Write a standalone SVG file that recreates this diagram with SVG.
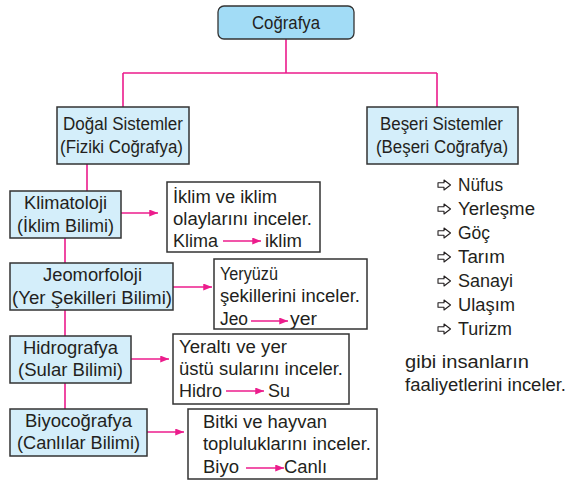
<svg xmlns="http://www.w3.org/2000/svg" width="569" height="482" viewBox="0 0 569 482">
<style>
text{font-family:"Liberation Sans",Arial,sans-serif;font-size:17.5px;fill:#231f20}
.top{fill:#a2dcf6;stroke:#333;stroke-width:1.3}
.box{fill:#d4eefa;stroke:#333;stroke-width:1.5}
.desc{fill:#fff;stroke:#333;stroke-width:1.5}
.pk{stroke:#ec1c8c;stroke-width:1.6;fill:none}
.ic{fill:#fff;stroke:#231f20;stroke-width:1.1;stroke-linejoin:round}
</style>
<defs>
<marker id="ah" viewBox="0 0 10 8" refX="10" refY="4" markerWidth="9" markerHeight="7" markerUnits="userSpaceOnUse" orient="auto">
<path d="M0,0 L10,4 L0,8 Z" fill="#ec1c8c"/>
</marker>
<path id="icon" d="M0,-2.3 L6,-2.3 L6,-5 L12.5,0 L6,5 L6,2.3 L0,2.3 Z"/>
</defs>
<g id="connectors">
<path class="pk" d="M286,39 V73 M123,73 H437 M123,73 V107 M437,73 V107"/>
<path class="pk" d="M87,164 V191 M65,238 V263 M65,310 V336 M65,383 V409"/>
<path class="pk" marker-end="url(#ah)" d="M121,213 H158"/>
<path class="pk" marker-end="url(#ah)" d="M173,287 H212"/>
<path class="pk" marker-end="url(#ah)" d="M131,359 H169"/>
<path class="pk" marker-end="url(#ah)" d="M147,432 H184"/>
</g>
<g id="cografya">
<rect class="top" x="218" y="6" width="136" height="33" rx="6"/>
<text x="252" y="29" textLength="68" lengthAdjust="spacingAndGlyphs">Coğrafya</text>
</g>
<g id="dogal">
<rect class="box" x="57" y="107" width="132" height="57"/>
<text x="63" y="130" textLength="120" lengthAdjust="spacingAndGlyphs">Doğal Sistemler</text>
<text x="60" y="153" textLength="123" lengthAdjust="spacingAndGlyphs">(Fiziki Coğrafya)</text>
</g>
<g id="beseri">
<rect class="box" x="367" y="107" width="151" height="57"/>
<text x="380" y="130" textLength="123" lengthAdjust="spacingAndGlyphs">Beşeri Sistemler</text>
<text x="376" y="153" textLength="132" lengthAdjust="spacingAndGlyphs">(Beşeri Coğrafya)</text>
</g>
<g id="klimatoloji">
<rect class="box" x="10" y="191" width="111" height="47"/>
<text x="24" y="209" textLength="83" lengthAdjust="spacingAndGlyphs">Klimatoloji</text>
<text x="17" y="232" textLength="97" lengthAdjust="spacingAndGlyphs">(İklim Bilimi)</text>
</g>
<g id="klimatoloji-desc">
<rect class="desc" x="167" y="182" width="153" height="70"/>
<text x="173" y="203" textLength="104" lengthAdjust="spacingAndGlyphs">İklim ve iklim</text>
<text x="173" y="225" textLength="139" lengthAdjust="spacingAndGlyphs">olaylarını inceler.</text>
<text x="173" y="247" textLength="45" lengthAdjust="spacingAndGlyphs">Klima</text>
<path class="pk" marker-end="url(#ah)" d="M223,241 H261"/>
<text x="265" y="247" textLength="37" lengthAdjust="spacingAndGlyphs">iklim</text>
</g>
<g id="jeomorfoloji">
<rect class="box" x="10" y="263" width="163" height="47"/>
<text x="43" y="281" textLength="99" lengthAdjust="spacingAndGlyphs">Jeomorfoloji</text>
<text x="12" y="304" textLength="160" lengthAdjust="spacingAndGlyphs">(Yer Şekilleri Bilimi)</text>
</g>
<g id="jeomorfoloji-desc">
<rect class="desc" x="214" y="259" width="153" height="70"/>
<text x="220" y="280" textLength="58" lengthAdjust="spacingAndGlyphs">Yeryüzü</text>
<text x="220" y="302" textLength="140" lengthAdjust="spacingAndGlyphs">şekillerini inceler.</text>
<text x="220" y="325" textLength="28" lengthAdjust="spacingAndGlyphs">Jeo</text>
<path class="pk" marker-end="url(#ah)" d="M251,321 H288"/>
<text x="290" y="325" textLength="27" lengthAdjust="spacingAndGlyphs">yer</text>
</g>
<g id="hidrografya">
<rect class="box" x="10" y="336" width="121" height="47"/>
<text x="23" y="354" textLength="95" lengthAdjust="spacingAndGlyphs">Hidrografya</text>
<text x="18" y="376" textLength="105" lengthAdjust="spacingAndGlyphs">(Sular Bilimi)</text>
</g>
<g id="hidrografya-desc">
<rect class="desc" x="173" y="334" width="176" height="70"/>
<text x="179" y="353" textLength="108" lengthAdjust="spacingAndGlyphs">Yeraltı ve yer</text>
<text x="179" y="375" textLength="164" lengthAdjust="spacingAndGlyphs">üstü sularını inceler.</text>
<text x="179" y="397" textLength="43" lengthAdjust="spacingAndGlyphs">Hidro</text>
<path class="pk" marker-end="url(#ah)" d="M226,391 H264"/>
<text x="268" y="397" textLength="22" lengthAdjust="spacingAndGlyphs">Su</text>
</g>
<g id="biyocografya">
<rect class="box" x="10" y="409" width="137" height="47"/>
<text x="25" y="427" textLength="107" lengthAdjust="spacingAndGlyphs">Biyocoğrafya</text>
<text x="17" y="449" textLength="123" lengthAdjust="spacingAndGlyphs">(Canlılar Bilimi)</text>
</g>
<g id="biyocografya-desc">
<rect class="desc" x="188" y="409" width="189" height="70"/>
<text x="203" y="428" textLength="124" lengthAdjust="spacingAndGlyphs">Bitki ve hayvan</text>
<text x="203" y="450" textLength="168" lengthAdjust="spacingAndGlyphs">topluluklarını inceler.</text>
<text x="203" y="473" textLength="36" lengthAdjust="spacingAndGlyphs">Biyo</text>
<path class="pk" marker-end="url(#ah)" d="M246,468 H284"/>
<text x="284" y="473" textLength="43" lengthAdjust="spacingAndGlyphs">Canlı</text>
</g>
<g id="beseri-list">
<use href="#icon" class="ic" x="438" y="185"/>
<text x="458" y="191" textLength="45" lengthAdjust="spacingAndGlyphs">Nüfus</text>
<use href="#icon" class="ic" x="438" y="209"/>
<text x="458" y="215" textLength="77" lengthAdjust="spacingAndGlyphs">Yerleşme</text>
<use href="#icon" class="ic" x="438" y="233"/>
<text x="458" y="239" textLength="32" lengthAdjust="spacingAndGlyphs">Göç</text>
<use href="#icon" class="ic" x="438" y="257"/>
<text x="458" y="263" textLength="47" lengthAdjust="spacingAndGlyphs">Tarım</text>
<use href="#icon" class="ic" x="438" y="281"/>
<text x="458" y="287" textLength="55" lengthAdjust="spacingAndGlyphs">Sanayi</text>
<use href="#icon" class="ic" x="438" y="305"/>
<text x="458" y="311" textLength="57" lengthAdjust="spacingAndGlyphs">Ulaşım</text>
<use href="#icon" class="ic" x="438" y="329"/>
<text x="458" y="335" textLength="54" lengthAdjust="spacingAndGlyphs">Turizm</text>
<text x="405" y="368" textLength="124" lengthAdjust="spacingAndGlyphs">gibi insanların</text>
<text x="405" y="391" textLength="161" lengthAdjust="spacingAndGlyphs">faaliyetlerini inceler.</text>
</g>
</svg>
